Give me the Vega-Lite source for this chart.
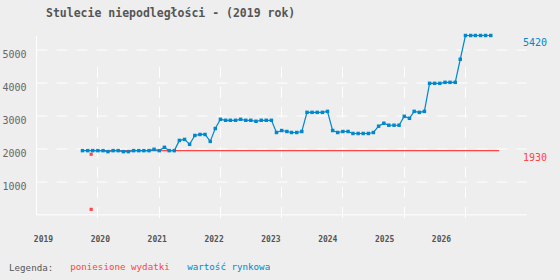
{
  "$schema": "https://vega.github.io/schema/vega-lite/v6.json",
  "autosize": {"type": "none"},
  "padding": {"left": 36, "top": 35.5, "right": 34, "bottom": 65.7},
  "width": 490,
  "height": 178.8,
  "background": "#eeeeee",
  "title": {
    "text": "Stulecie niepodległości - (2019 rok)",
    "anchor": "start",
    "frame": "group",
    "dx": 10,
    "offset": 5,
    "baseline": "alphabetic",
    "font": "DejaVu Sans Mono",
    "fontSize": 11.5,
    "fontWeight": "bold",
    "color": "#555555"
  },
  "datasets": {
    "market": [
      {"date": "2019-10-05", "value": 1930, "series": "wartość rynkowa"},
      {"date": "2019-11-05", "value": 1930, "series": "wartość rynkowa"},
      {"date": "2019-12-05", "value": 1930, "series": "wartość rynkowa"},
      {"date": "2020-01-05", "value": 1930, "series": "wartość rynkowa"},
      {"date": "2020-02-05", "value": 1930, "series": "wartość rynkowa"},
      {"date": "2020-03-05", "value": 1900, "series": "wartość rynkowa"},
      {"date": "2020-04-05", "value": 1930, "series": "wartość rynkowa"},
      {"date": "2020-05-05", "value": 1930, "series": "wartość rynkowa"},
      {"date": "2020-06-05", "value": 1900, "series": "wartość rynkowa"},
      {"date": "2020-07-05", "value": 1900, "series": "wartość rynkowa"},
      {"date": "2020-08-05", "value": 1930, "series": "wartość rynkowa"},
      {"date": "2020-09-05", "value": 1930, "series": "wartość rynkowa"},
      {"date": "2020-10-05", "value": 1930, "series": "wartość rynkowa"},
      {"date": "2020-11-05", "value": 1930, "series": "wartość rynkowa"},
      {"date": "2020-12-05", "value": 1970, "series": "wartość rynkowa"},
      {"date": "2021-01-05", "value": 1930, "series": "wartość rynkowa"},
      {"date": "2021-02-05", "value": 2030, "series": "wartość rynkowa"},
      {"date": "2021-03-05", "value": 1930, "series": "wartość rynkowa"},
      {"date": "2021-04-05", "value": 1930, "series": "wartość rynkowa"},
      {"date": "2021-05-05", "value": 2240, "series": "wartość rynkowa"},
      {"date": "2021-06-05", "value": 2270, "series": "wartość rynkowa"},
      {"date": "2021-07-05", "value": 2120, "series": "wartość rynkowa"},
      {"date": "2021-08-05", "value": 2390, "series": "wartość rynkowa"},
      {"date": "2021-09-05", "value": 2420, "series": "wartość rynkowa"},
      {"date": "2021-10-05", "value": 2420, "series": "wartość rynkowa"},
      {"date": "2021-11-05", "value": 2210, "series": "wartość rynkowa"},
      {"date": "2021-12-05", "value": 2600, "series": "wartość rynkowa"},
      {"date": "2022-01-05", "value": 2880, "series": "wartość rynkowa"},
      {"date": "2022-02-05", "value": 2850, "series": "wartość rynkowa"},
      {"date": "2022-03-05", "value": 2850, "series": "wartość rynkowa"},
      {"date": "2022-04-05", "value": 2850, "series": "wartość rynkowa"},
      {"date": "2022-05-05", "value": 2880, "series": "wartość rynkowa"},
      {"date": "2022-06-05", "value": 2850, "series": "wartość rynkowa"},
      {"date": "2022-07-05", "value": 2850, "series": "wartość rynkowa"},
      {"date": "2022-08-05", "value": 2820, "series": "wartość rynkowa"},
      {"date": "2022-09-05", "value": 2850, "series": "wartość rynkowa"},
      {"date": "2022-10-05", "value": 2850, "series": "wartość rynkowa"},
      {"date": "2022-11-05", "value": 2850, "series": "wartość rynkowa"},
      {"date": "2022-12-05", "value": 2480, "series": "wartość rynkowa"},
      {"date": "2023-01-05", "value": 2540, "series": "wartość rynkowa"},
      {"date": "2023-02-05", "value": 2510, "series": "wartość rynkowa"},
      {"date": "2023-03-05", "value": 2480, "series": "wartość rynkowa"},
      {"date": "2023-04-05", "value": 2480, "series": "wartość rynkowa"},
      {"date": "2023-05-05", "value": 2510, "series": "wartość rynkowa"},
      {"date": "2023-06-05", "value": 3090, "series": "wartość rynkowa"},
      {"date": "2023-07-05", "value": 3090, "series": "wartość rynkowa"},
      {"date": "2023-08-05", "value": 3090, "series": "wartość rynkowa"},
      {"date": "2023-09-05", "value": 3090, "series": "wartość rynkowa"},
      {"date": "2023-10-05", "value": 3120, "series": "wartość rynkowa"},
      {"date": "2023-11-05", "value": 2540, "series": "wartość rynkowa"},
      {"date": "2023-12-05", "value": 2480, "series": "wartość rynkowa"},
      {"date": "2024-01-05", "value": 2510, "series": "wartość rynkowa"},
      {"date": "2024-02-05", "value": 2510, "series": "wartość rynkowa"},
      {"date": "2024-03-05", "value": 2450, "series": "wartość rynkowa"},
      {"date": "2024-04-05", "value": 2450, "series": "wartość rynkowa"},
      {"date": "2024-05-05", "value": 2450, "series": "wartość rynkowa"},
      {"date": "2024-06-05", "value": 2450, "series": "wartość rynkowa"},
      {"date": "2024-07-05", "value": 2480, "series": "wartość rynkowa"},
      {"date": "2024-08-05", "value": 2670, "series": "wartość rynkowa"},
      {"date": "2024-09-05", "value": 2760, "series": "wartość rynkowa"},
      {"date": "2024-10-05", "value": 2700, "series": "wartość rynkowa"},
      {"date": "2024-11-05", "value": 2700, "series": "wartość rynkowa"},
      {"date": "2024-12-05", "value": 2700, "series": "wartość rynkowa"},
      {"date": "2025-01-05", "value": 2970, "series": "wartość rynkowa"},
      {"date": "2025-02-05", "value": 2910, "series": "wartość rynkowa"},
      {"date": "2025-03-05", "value": 3120, "series": "wartość rynkowa"},
      {"date": "2025-04-05", "value": 3090, "series": "wartość rynkowa"},
      {"date": "2025-05-05", "value": 3120, "series": "wartość rynkowa"},
      {"date": "2025-06-05", "value": 3970, "series": "wartość rynkowa"},
      {"date": "2025-07-05", "value": 3970, "series": "wartość rynkowa"},
      {"date": "2025-08-05", "value": 3970, "series": "wartość rynkowa"},
      {"date": "2025-09-05", "value": 4000, "series": "wartość rynkowa"},
      {"date": "2025-10-05", "value": 4000, "series": "wartość rynkowa"},
      {"date": "2025-11-05", "value": 4000, "series": "wartość rynkowa"},
      {"date": "2025-12-05", "value": 4700, "series": "wartość rynkowa"},
      {"date": "2026-01-05", "value": 5420, "series": "wartość rynkowa"},
      {"date": "2026-02-05", "value": 5420, "series": "wartość rynkowa"},
      {"date": "2026-03-05", "value": 5420, "series": "wartość rynkowa"},
      {"date": "2026-04-05", "value": 5420, "series": "wartość rynkowa"},
      {"date": "2026-05-05", "value": 5420, "series": "wartość rynkowa"},
      {"date": "2026-06-05", "value": 5420, "series": "wartość rynkowa"}
    ],
    "costLine": [
      {"date": "2019-11-26", "value": 1930, "series": "poniesione wydatki"},
      {"date": "2026-07-25", "value": 1930, "series": "poniesione wydatki"}
    ],
    "costPoints": [
      {"date": "2019-11-26", "value": 1820, "series": "poniesione wydatki"},
      {"date": "2019-11-26", "value": 150, "series": "poniesione wydatki"}
    ],
    "lastValues": [
      {"value": 5420, "label": "5420", "series": "wartość rynkowa"},
      {"value": 1930, "label": "1930", "series": "poniesione wydatki"}
    ],
    "years": [
      {"year": 2019}, {"year": 2020}, {"year": 2021}, {"year": 2022},
      {"year": 2023}, {"year": 2024}, {"year": 2025}, {"year": 2026}
    ]
  },
  "layer": [
    {
      "encoding": {
        "x": {
          "field": "date",
          "type": "temporal",
          "scale": {"domain": [{"year": 2019, "month": 1, "date": 1}, {"year": 2027, "month": 1, "date": 1}], "nice": false},
          "axis": {
            "values": [
              {"year": 2020, "month": 1, "date": 1},
              {"year": 2021, "month": 1, "date": 1},
              {"year": 2022, "month": 1, "date": 1},
              {"year": 2023, "month": 1, "date": 1},
              {"year": 2024, "month": 1, "date": 1},
              {"year": 2025, "month": 1, "date": 1},
              {"year": 2026, "month": 1, "date": 1}
            ],
            "labels": false,
            "domain": false,
            "grid": false,
            "ticks": true,
            "tickSize": -154,
            "tickColor": "#ffffff",
            "tickWidth": 1,
            "tickDash": [11, 9],
            "offset": 3,
            "title": null,
            "orient": "bottom"
          }
        },
        "y": {
          "field": "value",
          "type": "quantitative",
          "scale": {"domain": [0, 5420], "nice": false},
          "axis": {
            "values": [1000, 2000, 3000, 4000, 5000],
            "format": "d",
            "grid": true,
            "gridColor": "#ffffff",
            "gridDash": [11, 9],
            "gridWidth": 1,
            "gridOpacity": 1,
            "domain": true,
            "domainColor": "#ffffff",
            "domainWidth": 1,
            "ticks": false,
            "tickSize": 0,
            "labelPadding": 10,
            "labelBaseline": "top",
            "labelFont": "DejaVu Sans Mono",
            "labelFontSize": 10,
            "labelColor": "#666666",
            "title": null
          }
        },
        "color": {
          "field": "series",
          "type": "nominal",
          "scale": {"domain": ["poniesione wydatki", "wartość rynkowa"], "range": ["#ff4444", "#0088cc"]},
          "legend": {
            "title": "Legenda:",
            "encode": {"labels": {"update": {"fill": {"scale": "color", "field": "value"}}}}
          }
        }
      },
      "layer": [
        {"data": {"name": "costLine"}, "mark": {"type": "line", "strokeWidth": 1.3}},
        {"data": {"name": "costPoints"}, "mark": {"type": "point", "shape": "square", "filled": true, "size": 10, "opacity": 1}},
        {"data": {"name": "market"}, "mark": {"type": "line", "strokeWidth": 1.2}},
        {"data": {"name": "market"}, "mark": {"type": "point", "shape": "square", "filled": true, "size": 12, "opacity": 1}},
        {
          "data": {"name": "lastValues"},
          "mark": {"type": "text", "align": "left", "baseline": "middle", "dx": -3, "dy": 7, "font": "DejaVu Sans Mono", "fontSize": 10},
          "encoding": {
            "x": {"value": "width"},
            "text": {"field": "label"}
          }
        }
      ]
    },
    {
      "data": {"name": "years"},
      "mark": {"type": "rule", "opacity": 0},
      "encoding": {
        "x": {
          "field": "year",
          "type": "quantitative",
          "scale": {"domain": [2018.877, 2027.495], "nice": false, "zero": false},
          "axis": {
            "values": [2019, 2020, 2021, 2022, 2023, 2024, 2025, 2026],
            "format": "d",
            "orient": "bottom",
            "grid": false,
            "ticks": false,
            "tickSize": 0,
            "domain": true,
            "domainColor": "#ffffff",
            "domainWidth": 1,
            "labelPadding": 21,
            "labelFont": "DejaVu Sans Mono",
            "labelFontSize": 8,
            "labelFontWeight": "bold",
            "labelColor": "#555555",
            "title": null
          }
        }
      }
    }
  ],
  "resolve": {"scale": {"x": "independent"}, "axis": {"x": "independent"}},
  "config": {
    "view": {"stroke": null},
    "legend": {
      "orient": "none",
      "legendX": -27,
      "legendY": 227,
      "direction": "horizontal",
      "titleOrient": "left",
      "titleFont": "DejaVu Sans Mono",
      "titleFontSize": 9.2,
      "titleFontWeight": "normal",
      "titleColor": "#555555",
      "titlePadding": 7,
      "titleBaseline": "middle",
      "labelFont": "DejaVu Sans Mono",
      "labelFontSize": 9.2,
      "labelOffset": 0,
      "labelBaseline": "middle",
      "symbolSize": 0,
      "symbolOpacity": 0,
      "symbolStrokeWidth": 0,
      "columnPadding": 8,
      "padding": 0,
      "labelLimit": 300
    }
  }
}
